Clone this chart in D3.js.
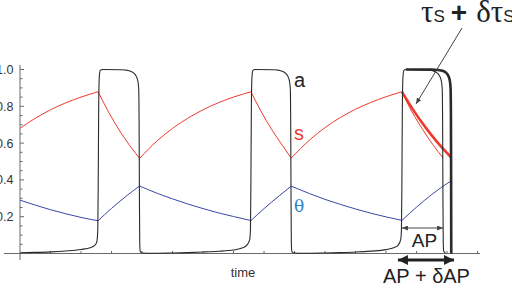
<!DOCTYPE html>
<html><head><meta charset="utf-8">
<script src="https://cdn.jsdelivr.net/npm/d3@7"></script>
<style>html,body{margin:0;padding:0;background:#fff;}svg{display:block;}</style>
</head><body>
<svg id="c" width="512" height="288"></svg>
<script>
// ---- data ----
const spikeOnsets = [2.56, 7.57, 12.52];
const spikeEnds = [3.92, 8.89, 13.87];
const spikeEndLong = 14.13;
const yTicks = [0.2, 0.4, 0.6, 0.8, 1.0];
const yTickLabels = ["0.2", "0.4", "0.6", "0.8", "1.0"];
const xTicks = [0,1,2,3,4,5,6,7,8,9,10,11,12,13,14,15];

const aCurve = [
  [0,0.004],[0.5,0.006],[1.0,0.009],[1.5,0.014],[2.0,0.022],[2.3,0.031],[2.45,0.044],[2.52,0.065],[2.55,0.13],
  [2.565,0.4],[2.58,0.8],[2.6,0.96],[2.63,0.995],[2.7,1.0],[3.3,0.999],[3.45,0.997],[3.6,0.992],[3.72,0.982],[3.8,0.966],[3.86,0.94],[3.89,0.9],[3.905,0.7],[3.915,0.3],[3.925,0.06],[3.94,0.012],[4.0,0.003],
  [4.3,0.001],[5.0,0.003],[5.5,0.005],[6.0,0.008],[6.5,0.012],[7.0,0.019],[7.3,0.031],[7.45,0.048],[7.53,0.075],[7.555,0.13],
  [7.57,0.4],[7.585,0.8],[7.605,0.96],[7.635,0.995],[7.7,1.0],[8.3,0.999],[8.42,0.997],[8.57,0.992],[8.69,0.982],[8.77,0.966],[8.83,0.94],[8.86,0.9],[8.875,0.7],[8.885,0.3],[8.895,0.06],[8.91,0.012],[8.97,0.003],
  [9.3,0.001],[10.0,0.003],[10.5,0.005],[11.0,0.008],[11.5,0.013],[12.0,0.021],[12.25,0.031],[12.4,0.046],[12.48,0.075],[12.505,0.13],
  [12.52,0.4],[12.535,0.8],[12.555,0.96],[12.585,0.995],[12.65,1.0],[13.2,0.999],[13.4,0.997],[13.55,0.992],[13.67,0.982],[13.75,0.966],[13.81,0.94],[13.84,0.9],[13.855,0.7],[13.865,0.3],[13.875,0.06],[13.89,0.012],[13.95,0.003]
];
const aCurveLong = [
  [12.65,1.0],[13.6,0.999],[13.8,0.995],[13.95,0.985],[14.04,0.966],[14.09,0.94],[14.115,0.9],[14.127,0.75],[14.133,0.4],[14.138,0.0]
];

const sCurve = [
  [0,0.680],[0.5,0.735],[1.0,0.781],[1.5,0.819],[2.0,0.850],[2.56,0.879],
  [2.9,0.770],[3.25,0.671],[3.6,0.586],[3.92,0.517],
  [4.5,0.613],[5.0,0.680],[5.5,0.735],[6.0,0.781],[6.5,0.819],[7.0,0.850],[7.57,0.879],
  [7.9,0.773],[8.25,0.674],[8.6,0.588],[8.89,0.518],
  [9.5,0.618],[10.0,0.684],[10.5,0.739],[11.0,0.784],[11.5,0.821],[12.0,0.852],[12.52,0.879],
  [12.85,0.770],[13.2,0.674],[13.55,0.588],[13.87,0.519]
];
const sCurveLong = [[12.52,0.879],[12.9,0.778],[13.3,0.684],[13.7,0.601],[14.13,0.523]];

const thetaCurve = [
  [0,0.290],[0.5,0.263],[1.0,0.238],[1.5,0.216],[2.0,0.196],[2.56,0.178],
  [3.0,0.245],[3.5,0.314],[3.92,0.367],
  [4.5,0.327],[5.0,0.297],[5.5,0.269],[6.0,0.244],[6.5,0.221],[7.0,0.201],[7.57,0.179],
  [8.0,0.244],[8.5,0.314],[8.89,0.366],
  [9.5,0.325],[10.0,0.294],[10.5,0.267],[11.0,0.242],[11.5,0.219],[12.0,0.199],[12.52,0.180],
  [13.0,0.252],[13.5,0.321],[14.13,0.395]
];

// ---- drawing ----
const svg = d3.select("#c");
svg.append("rect").attr("width",512).attr("height",288).attr("fill","#fff");
const x = d3.scaleLinear().domain([0, 15.08]).range([20, 480]);
const y = d3.scaleLinear().domain([0, 1]).range([253.5, 69.5]);

const kinks = spikeOnsets.concat(spikeEnds);
function splitAt(points, ks) {
  const segs = []; let cur = [points[0]];
  for (let i = 1; i < points.length; i++) {
    cur.push(points[i]);
    if (ks.includes(points[i][0]) && i < points.length - 1) { segs.push(cur); cur = [points[i]]; }
  }
  if (cur.length > 1) segs.push(cur);
  return segs;
}
const line = d3.line().x(d => x(d[0])).y(d => y(d[1])).curve(d3.curveMonotoneX);

// axes
const axisColor = "#6a6a6a";
svg.append("line").attr("x1",4).attr("x2",480).attr("y1",y(0)).attr("y2",y(0)).attr("stroke",axisColor).attr("stroke-width",1);
svg.append("line").attr("x1",x(0)).attr("x2",x(0)).attr("y1",260).attr("y2",65).attr("stroke",axisColor).attr("stroke-width",1);
const minorY = d3.range(0.05, 1.001, 0.05).filter(v => !yTicks.some(t => Math.abs(t - v) < 1e-6));
svg.selectAll(".ym").data(minorY).enter().append("line")
  .attr("x1",x(0)).attr("x2",x(0)+2.5).attr("y1",d=>y(d)).attr("y2",d=>y(d)).attr("stroke",axisColor);
svg.selectAll(".yM").data(yTicks).enter().append("line")
  .attr("x1",x(0)).attr("x2",x(0)+4).attr("y1",d=>y(d)).attr("y2",d=>y(d)).attr("stroke",axisColor);
svg.selectAll(".yl").data(yTicks).enter().append("text")
  .attr("x",13.5).attr("y",d=>y(d)+4.5).attr("text-anchor","end")
  .attr("font-family","Liberation Sans, Arial, sans-serif").attr("font-size",12.5).attr("fill","#333")
  .text((d,i)=>yTickLabels[i]);
svg.selectAll(".xt").data(xTicks.slice(1)).enter().append("line")
  .attr("x1",d=>x(d)).attr("x2",d=>x(d)).attr("y1",y(0)).attr("y2",y(0)-2.5).attr("stroke",axisColor);

// curves
const red = "#ec3b2c", blue = "#3a48a6", blk = "#2a2a2a";
splitAt(sCurve, kinks).forEach(seg => svg.append("path").attr("d",line(seg)).attr("fill","none").attr("stroke",red).attr("stroke-width",1));
svg.append("path").attr("d",line(sCurveLong)).attr("fill","none").attr("stroke",red).attr("stroke-width",2.6);
splitAt(thetaCurve, kinks).forEach(seg => svg.append("path").attr("d",line(seg)).attr("fill","none").attr("stroke",blue).attr("stroke-width",1));
svg.append("path").attr("d",line(aCurve)).attr("fill","none").attr("stroke",blk).attr("stroke-width",1.1);
svg.append("path").attr("d",line(aCurveLong)).attr("fill","none").attr("stroke",blk).attr("stroke-width",2.6);

// labels
const sans = "Liberation Sans, Arial, Helvetica, sans-serif";
svg.append("text").attr("x",294).attr("y",86.5).attr("font-family",sans).attr("font-size",20).attr("fill","#222").text("a");
svg.append("text").attr("x",294).attr("y",140).attr("font-family",sans).attr("font-size",20).attr("fill",red).text("s");
svg.append("text").attr("x",294).attr("y",211.5).attr("font-family","DejaVu Serif, serif").attr("font-size",17).attr("fill","#2b86c8").text("θ");
svg.append("text").attr("x",243).attr("y",277).attr("text-anchor","middle").attr("font-family",sans).attr("font-size",13).attr("fill","#333").text("time");

// markers
const defs = svg.append("defs");
function marker(id, w, h, color, reverse) {
  const m = defs.append("marker").attr("id",id).attr("markerUnits","userSpaceOnUse")
    .attr("markerWidth",w).attr("markerHeight",h).attr("refX", w).attr("refY", h/2)
    .attr("orient", reverse ? "auto-start-reverse" : "auto").attr("viewBox",`0 0 ${w} ${h}`);
  m.append("path").attr("d",`M0,0 L${w},${h/2} L0,${h} Z`).attr("fill",color);
}
marker("thinA", 6, 5, "#444", false);
marker("thinB", 6, 5, "#444", true);
marker("thickA", 10, 10, "#222", false);
marker("thickB", 10, 10, "#222", true);

// tau arrow
svg.append("line").attr("x1",462).attr("y1",28).attr("x2",416).attr("y2",104)
  .attr("stroke","#444").attr("stroke-width",1).attr("marker-end","url(#thinA)");
const tauT = svg.append("text").attr("x",421).attr("y",22).attr("font-family","Liberation Serif, Times New Roman, serif").attr("font-size",31).attr("fill","#222");
tauT.append("tspan").text("τ");
tauT.append("tspan").attr("font-size",17).attr("font-family",sans).text("S");
tauT.append("tspan").attr("font-family",sans).attr("font-weight","bold").attr("font-size",28).attr("dx",6).text("+");
tauT.append("tspan").attr("dx",9).text("δτ");
tauT.append("tspan").attr("font-size",17).attr("font-family",sans).text("S");

// AP arrow
svg.append("line").attr("x1",x(spikeOnsets[2])).attr("x2",x(spikeEnds[2])).attr("y1",228).attr("y2",228)
  .attr("stroke","#444").attr("stroke-width",1).attr("marker-start","url(#thinB)").attr("marker-end","url(#thinA)");
svg.append("text").attr("x",(x(spikeOnsets[2])+x(spikeEnds[2]))/2+2).attr("y",247).attr("text-anchor","middle")
  .attr("font-family",sans).attr("font-size",19).attr("fill","#222").text("AP");
svg.append("line").attr("x1",x(spikeOnsets[2])-4).attr("x2",x(spikeEndLong)+3).attr("y1",260).attr("y2",260)
  .attr("stroke","#222").attr("stroke-width",3).attr("marker-start","url(#thickB)").attr("marker-end","url(#thickA)");
svg.append("text").attr("x",426.5).attr("y",283).attr("text-anchor","middle")
  .attr("font-family",sans).attr("font-size",20).attr("fill","#222").text("AP + δAP");
</script>
</body></html>
